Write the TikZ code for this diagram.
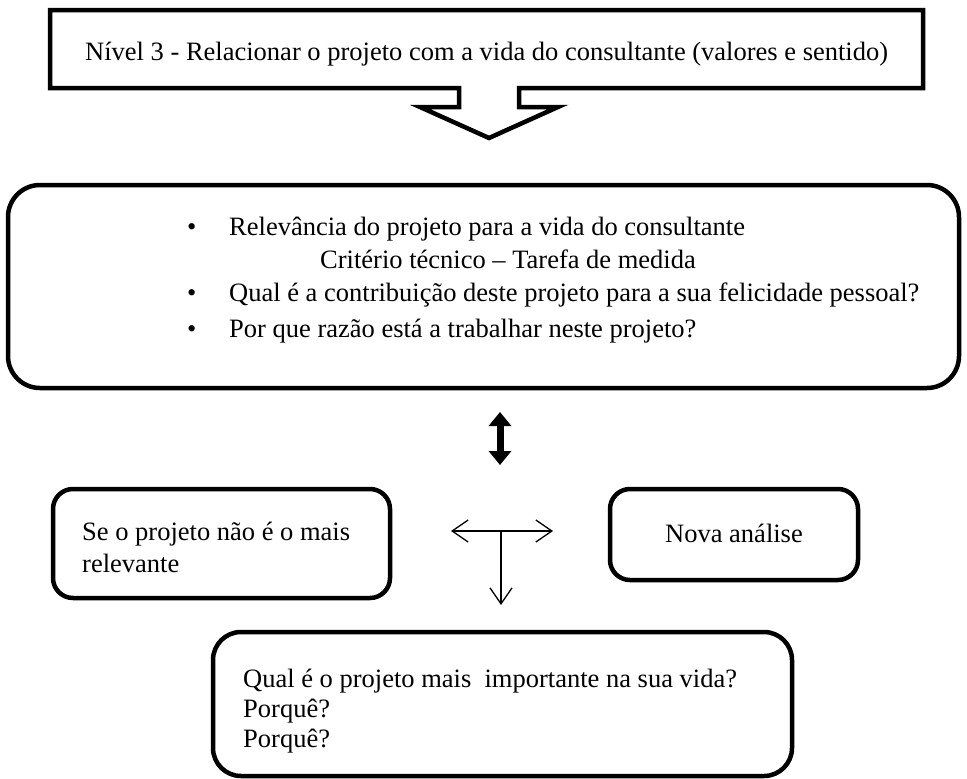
\documentclass[tikz,border=0pt]{standalone}
\usepackage{fontspec}
\setmainfont{Liberation Serif}
\usetikzlibrary{arrows.meta}
\begin{document}
\begin{tikzpicture}[x=1pt, y=-1pt,
		txt/.style={anchor=base west, inner sep=0pt, font=\fontsize{26.5}{33}\selectfont},
		frame/.style={draw, line width=4.5pt, inner sep=0pt},
		thinarrow/.style={line width=1.3pt, >={Straight Barb[length=16pt,width=22pt]}},
		fatarrow/.style={line width=7pt, {Triangle[length=14pt,width=22pt]}-{Triangle[length=14pt,width=22pt]}}]
		\useasboundingbox ( 0, 0 ) rectangle ( 967, 779 );

		% уровень 3
		\draw [frame, line join=miter] ( 50, 10 ) -- ( 923, 10 ) -- ( 923, 88 ) -- ( 519, 88 ) -- ( 519, 107 ) -- ( 558, 107 ) -- ( 489, 138 ) -- ( 420, 107 ) -- ( 459, 107 ) -- ( 459, 88 ) -- ( 50, 88 ) -- cycle;
		\node [txt] (nivel) at ( 85, 60 ) {Nível 3 - Relacionar o projeto com a vida do consultante (valores e sentido)};

		% критерий
		\node [frame, rounded corners=32pt, minimum width=951pt, minimum height=203pt] (criterio) at ( 483.5, 286.5 ) {};
		\node [txt] (bulA) at ( 187, 235 ) {•};
		\node [txt] (relev) at ( 229, 235 ) {Relevância do projeto para a vida do consultante};
		\node [txt] (tecn) at ( 320, 268 ) {Critério técnico – Tarefa de medida};
		\node [txt] (bulB) at ( 187, 301 ) {•};
		\node [txt] (contr) at ( 229, 301 ) {Qual é a contribuição deste projeto para a sua felicidade pessoal?};
		\node [txt] (bulC) at ( 187, 337 ) {•};
		\node [txt] (razao) at ( 229, 337 ) {Por que razão está a trabalhar neste projeto?};

		% двойная стрелка
		\coordinate (dup) at ( 500, 412 );
		\coordinate (ddown) at ( 500, 465 );
		\draw [fatarrow] (dup) -- (ddown);

		% ветвление
		\coordinate (tleft) at ( 451, 531 );
		\coordinate (tright) at ( 553, 531 );
		\coordinate (tmid) at ( 501, 531 );
		\coordinate (tdown) at ( 501, 605 );
		\draw [thinarrow, <->] (tleft) -- (tright);
		\draw [thinarrow, ->] (tmid) -- (tdown);

		% не самый важный
		\node [frame, rounded corners=20pt, minimum width=337pt, minimum height=109pt] (naorel) at ( 221.5, 543.5 ) {};
		\node [txt] (naorelA) at ( 82, 540 ) {Se o projeto não é o mais};
		\node [txt] (naorelB) at ( 82, 572 ) {relevante};

		% новый анализ
		\node [frame, rounded corners=20pt, minimum width=248pt, minimum height=91pt] (nova) at ( 734, 534.5 ) {};
		\node [txt] (novaT) at ( 665, 542 ) {Nova análise};

		% самый важный проект
		\node [frame, rounded corners=28pt, minimum width=579pt, minimum height=144pt] (qual) at ( 502.5, 704 ) {};
		\node [txt] (qualA) at ( 243, 687 ) {Qual é o projeto mais~ importante na sua vida?};
		\node [txt] (qualB) at ( 243, 717 ) {Porquê?};
		\node [txt] (qualC) at ( 243, 747 ) {Porquê?};
	\end{tikzpicture}
\end{document}
